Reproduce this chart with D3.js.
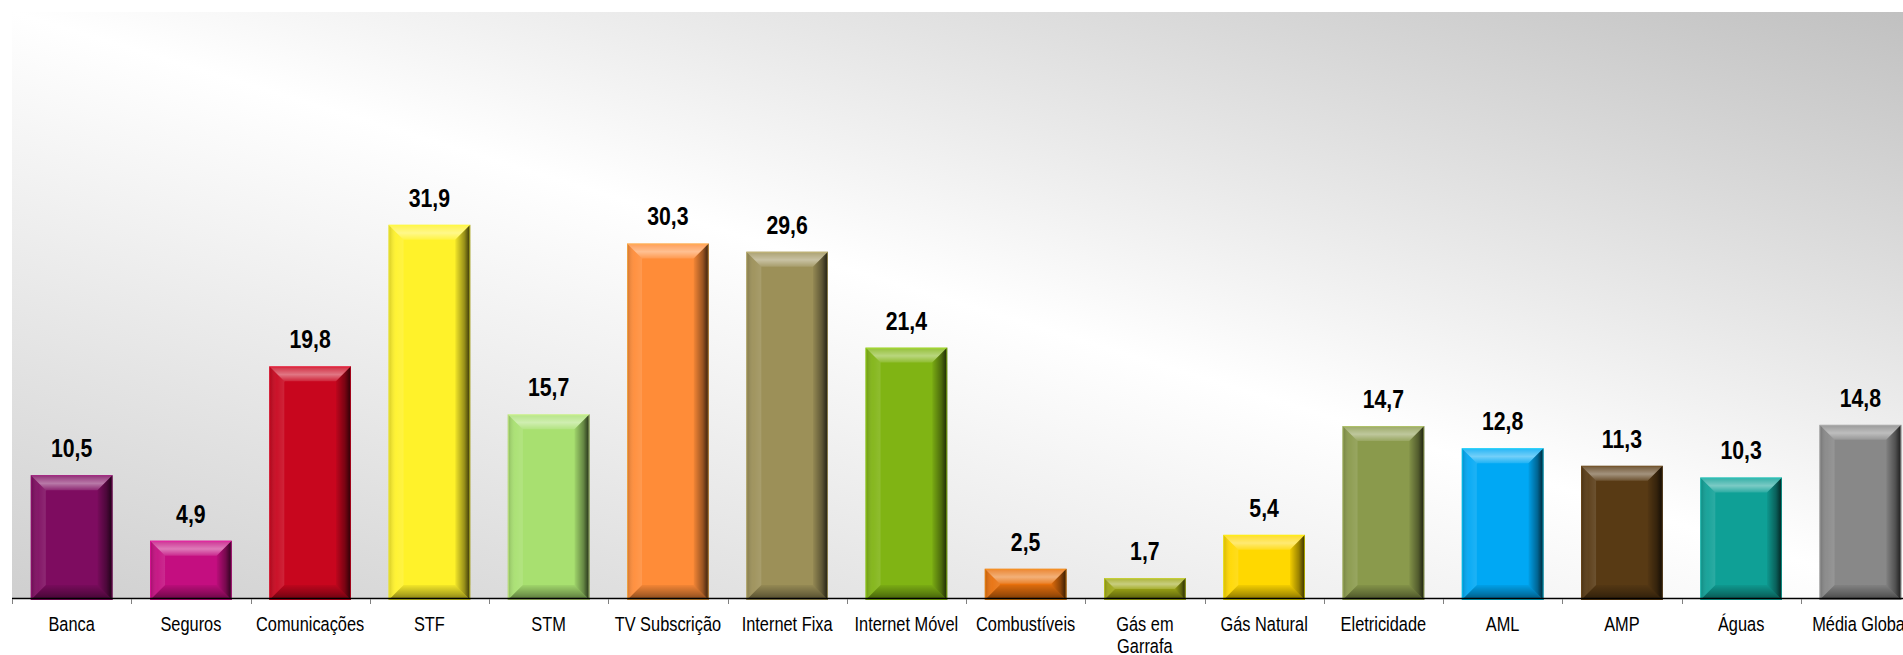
<!DOCTYPE html>
<html>
<head>
<meta charset="utf-8">
<script src="https://cdn.jsdelivr.net/npm/d3@7"></script>
<style>
  html, body { margin: 0; padding: 0; background: #ffffff; overflow: hidden; }
  svg { display: block; }
  .cat { font-family: "Liberation Sans", Arial, sans-serif; font-size: 19.5px; fill: #000; }
  .val { font-family: "Liberation Sans", Arial, sans-serif; font-size: 25px; font-weight: bold; fill: #000; }
</style>
</head>
<body>
<svg id="chart"></svg>
<script>
// Categories (a "\n" marks a forced line break in the axis label)
const categories = [
  "Banca", "Seguros", "Comunicações", "STF", "STM", "TV Subscrição",
  "Internet Fixa", "Internet Móvel", "Combustíveis", "Gás em\nGarrafa",
  "Gás Natural", "Eletricidade", "AML", "AMP", "Águas", "Média Global"
];
const values = [10.5, 4.9, 19.8, 31.9, 15.7, 30.3, 29.6, 21.4, 2.5, 1.7, 5.4, 14.7, 12.8, 11.3, 10.3, 14.8];
const barColors = [
  "#7e0c60", "#c40e80", "#c8061e", "#fff22a", "#a8e070", "#ff8c38",
  "#9c9058", "#80b414", "#e8700c", "#9ca515", "#ffd800", "#8a9a4c",
  "#00a8f4", "#583a14", "#0fa096", "#888888"
];
const yDomain = [0, 50];

const W = 1903, H = 655;
const plot = { left: 12, top: 12, right: 1920, bottom: 598 };
// condensed lettering: horizontal squeeze applied to the texts
const catSqueeze = 0.84, valSqueeze = 0.85;

const svg = d3.select("#chart").attr("width", W).attr("height", H);
const defs = svg.append("defs");

// Plot-area background: grey corners, white diagonal band
const bg = defs.append("linearGradient").attr("id", "bgGrad")
  .attr("x1", 1).attr("y1", 0).attr("x2", 0).attr("y2", 1);
bg.append("stop").attr("offset", 0).attr("stop-color", "#c0c0c0");
bg.append("stop").attr("offset", 0.5).attr("stop-color", "#ffffff");
bg.append("stop").attr("offset", 1).attr("stop-color", "#cfcfcf");

// Bevel overlay gradients (shared by all bars, bounding-box units)
function grad(id, x1, y1, x2, y2, stops) {
  const g = defs.append("linearGradient").attr("id", id)
    .attr("x1", x1).attr("y1", y1).attr("x2", x2).attr("y2", y2);
  stops.forEach(s => g.append("stop").attr("offset", s[0])
    .attr("stop-color", s[1]).attr("stop-opacity", s[2]));
}
grad("bevTop", 0, 0, 0, 1, [[0, "#fff", 0.15], [0.55, "#fff", 0.45], [1, "#fff", 0.12]]);
grad("bevLeft", 0, 0, 1, 0, [[0, "#000", 0.18], [0.5, "#fff", 0.05], [1, "#fff", 0.12]]);
grad("bevRight", 0, 0, 1, 0, [[0, "#000", 0.05], [0.6, "#000", 0.4], [1, "#000", 0.8]]);
grad("bevBottom", 0, 0, 0, 1, [[0, "#000", 0.05], [0.6, "#000", 0.3], [1, "#000", 0.5]]);

svg.append("rect")
  .attr("x", plot.left).attr("y", plot.top)
  .attr("width", plot.right - plot.left).attr("height", plot.bottom - plot.top)
  .attr("fill", "url(#bgGrad)");

const x = d3.scaleBand()
  .domain(d3.range(categories.length))
  .range([plot.left, plot.right])
  .paddingInner(0.315).paddingOuter(0.1575);

const y = d3.scaleLinear().domain(yDomain).range([plot.bottom, plot.top + 1]);

const data = categories.map((c, i) => ({ i, cat: c, v: values[i], color: barColors[i] }));
const cx = d => x(d.i) + x.bandwidth() / 2;

const bev = 15;
const bars = svg.append("g").selectAll("g.bar").data(data).join("g").attr("class", "bar");

bars.each(function (d) {
  const g = d3.select(this);
  const x0 = x(d.i), x1 = x0 + x.bandwidth();
  const y0 = y(d.v), y1 = y(0) + 2;
  const b = Math.min(bev, (y1 - y0) / 2, (x1 - x0) / 2);
  const lighter = d3.color(d.color).brighter(0.9).formatHex();
  g.append("rect").attr("x", x0).attr("y", y0)
    .attr("width", x1 - x0).attr("height", y1 - y0)
    .attr("fill", d.color);
  const poly = (pts, fill) => g.append("polygon")
    .attr("points", pts.map(p => p.join(",")).join(" ")).attr("fill", fill);
  poly([[x0, y0], [x1, y0], [x1 - b, y0 + b], [x0 + b, y0 + b]], "url(#bevTop)");
  poly([[x0, y0], [x0 + b, y0 + b], [x0 + b, y1 - b], [x0, y1]], "url(#bevLeft)");
  poly([[x1, y0], [x1, y1], [x1 - b, y1 - b], [x1 - b, y0 + b]], "url(#bevRight)");
  poly([[x0, y1], [x0 + b, y1 - b], [x1 - b, y1 - b], [x1, y1]], "url(#bevBottom)");
  g.append("rect").attr("x", x0 + 0.5).attr("y", y0 + 0.5)
    .attr("width", x1 - x0 - 1).attr("height", y1 - y0 - 1)
    .attr("fill", "none").attr("stroke", lighter).attr("stroke-opacity", 0.55).attr("stroke-width", 1);
});

// Value labels
svg.append("g").selectAll("text").data(data).join("text")
  .attr("class", "val")
  .attr("transform", d => `translate(${cx(d)},${y(d.v) - 18}) scale(${valSqueeze},1)`)
  .attr("text-anchor", "middle")
  .text(d => d3.format(".1f")(d.v).replace(".", ","));

// Category axis: line along the baseline, ticks between categories
const axisG = svg.append("g");
axisG.append("line")
  .attr("x1", plot.left).attr("x2", plot.right)
  .attr("y1", plot.bottom + 0.5).attr("y2", plot.bottom + 0.5)
  .attr("stroke", "#000").attr("stroke-width", 1.3);
const step = x.step();
const tickXs = d3.range(categories.length + 1).map(k => plot.left + k * step);
axisG.selectAll("line.tick").data(tickXs).join("line").attr("class", "tick")
  .attr("x1", d => Math.round(d) + 0.5).attr("x2", d => Math.round(d) + 0.5)
  .attr("y1", plot.bottom + 1).attr("y2", plot.bottom + 6)
  .attr("stroke", "#808080").attr("stroke-width", 1);

const labels = axisG.selectAll("text.cat").data(data).join("text")
  .attr("class", "cat")
  .attr("text-anchor", "middle")
  .attr("transform", d => `translate(${cx(d)},${plot.bottom + 33}) scale(${catSqueeze},1)`);
labels.each(function (d) {
  const t = d3.select(this);
  d.cat.split("\n").forEach((line, k) => {
    t.append("tspan")
      .attr("x", 0)
      .attr("dy", k === 0 ? 0 : 22.5)
      .text(line);
  });
});
</script>
</body>
</html>
